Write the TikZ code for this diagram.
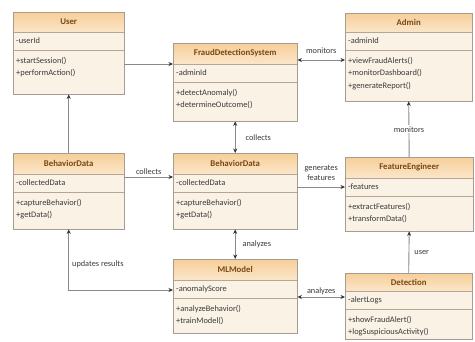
\documentclass[tikz,border=0pt]{standalone}
\usepackage{fontspec}
\setmainfont{Carlito}
\usetikzlibrary{arrows.meta,calc}
\definecolor{hdrA}{HTML}{F6CE98}
\definecolor{hdrB}{HTML}{FBE6CA}
\definecolor{bodyC}{HTML}{FBF2E6}
\definecolor{borderC}{HTML}{A59C92}
\definecolor{sepC}{HTML}{B3A697}
\definecolor{titleC}{HTML}{7A4812}
\definecolor{textC}{HTML}{3A3A3A}
\definecolor{lineC}{HTML}{8A8A8A}
\definecolor{tipC}{HTML}{333333}
\tikzset{
  clsbody/.style={fill=bodyC, draw=none, inner sep=0pt, rectangle},
  clsborder/.style={draw=borderC, line width=0.9pt},
  sepline/.style={draw=sepC, line width=0.8pt},
  clstitle/.style={font=\fontsize{8.8}{10}\selectfont\bfseries, text=titleC, inner sep=0pt},
  clsattr/.style={font=\fontsize{8.4}{10}\selectfont, text=textC, inner sep=0pt, anchor=west},
  clsmeth/.style={font=\fontsize{8.4}{10}\selectfont, text=textC, inner sep=0pt, anchor=west},
  conn/.style={draw=lineC, line width=0.9pt},
  tip/.style={-{Stealth[length=4.5pt,width=4pt,color=tipC]}},
  tips/.style={{Stealth[length=4.5pt,width=4pt,color=tipC]}-{Stealth[length=4.5pt,width=4pt,color=tipC]}},
  lbl/.style={font=\fontsize{8.3}{10}\selectfont, text=textC, inner sep=1pt}
}
% name, x, y, w, h, title, attr, methods, header height
\newcommand{\umlclass}[9]{%
  \node[clsbody, minimum width=#4pt, minimum height=#5pt, anchor=north west] (#1) at (#2,#3) {};
  \shade[top color=hdrA, bottom color=hdrB] (#1.north west) rectangle ([yshift=-#9pt]#1.north east);
  \draw[sepline] ([yshift=-#9pt]#1.north west) -- ([yshift=-#9pt]#1.north east);
  \draw[sepline] ([yshift=-#9pt-18pt]#1.north west) -- ([yshift=-#9pt-18pt]#1.north east);
  \draw[clsborder] (#1.north west) rectangle (#1.south east);
  \node[clstitle] (#1-title) at ([yshift=-#9pt/2]#1.north) {#6};
  \node[clsattr] (#1-attr) at ([xshift=3pt,yshift=-#9pt-9pt]#1.north west) {#7};
  \foreach \m [count=\i] in {#8} {
    \node[clsmeth] (#1-m\i) at ([xshift=3pt,yshift={-#9pt-29pt-12.5pt*(\i-1)}]#1.north west) {\m};
  }
}
\begin{document}
\begin{tikzpicture}[x=1pt,y=-1pt]
\useasboundingbox[fill=white] (0,0) rectangle (475,341);

\umlclass{user}{13}{12}{111}{82}{User}{-userId}{+startSession(),+performAction()}{20}
\umlclass{fds}{173}{43}{124}{78}{FraudDetectionSystem}{-adminId}{+detectAnomaly(),+determineOutcome()}{21}
\umlclass{admin}{345}{13}{127}{88}{Admin}{-adminId}{+viewFraudAlerts(),+monitorDashboard(),+generateReport()}{19}
\umlclass{bdl}{13}{153}{111}{76}{BehaviorData}{-collectedData}{+captureBehavior(),+getData()}{21}
\umlclass{bdc}{173}{153}{124}{76}{BehaviorData}{-collectedData}{+captureBehavior(),+getData()}{21}
\umlclass{fe}{345}{157}{128}{74}{FeatureEngineer}{-features}{+extractFeatures(),+transformData()}{21}
\umlclass{ml}{173}{259}{124}{74}{MLModel}{-anomalyScore}{+analyzeBehavior(),+trainModel()}{21}
\umlclass{det}{345}{273}{127}{66}{Detection}{-alertLogs}{+showFraudAlert(),+logSuspiciousActivity()}{18}

% connectors
\coordinate (uf) at ([yshift=-52pt]user.north east);
\draw[conn,tip] (uf) -- (uf -| fds.west);

\coordinate (fa) at ([yshift=-17pt]fds.north east);
\draw[conn,tips] (fa) -- node[lbl, above=5pt] (lmon1) {monitors} (fa -| admin.west);

\draw[conn,tips] (fds.south) -- node[lbl, right=9pt] (lcol1) {collects} (bdc.north);

\draw[conn,tip] (bdl.north) -- (user.south);

\coordinate (bb) at ([yshift=-24pt]bdl.north east);
\draw[conn,tip] (bb) -- node[lbl, above=1pt] (lcol2) {collects} (bb -| bdc.west);

\coordinate (bf) at ([yshift=-34pt]bdc.north east);
\draw[conn,tip] (bf) -- node[lbl, above=5pt, align=center] (lgen) {generates\\features} (bf -| fe.west);

\draw[conn,tip] (fe.north) -- node[lbl, fill=white] (lmon2) {monitors} (admin.south);

\draw[conn,tips] (bdc.south) -- node[lbl, right=6pt] (lana1) {analyzes} (ml.north);

\coordinate (mb) at ([yshift=-31pt]ml.north west);
\draw[conn,tips] (mb) -| node[lbl, pos=0.71, right=2pt] (lupd) {updates results} (bdl.south);

\coordinate (md) at ([yshift=-38pt]ml.north east);
\draw[conn,tips] (md) -- node[lbl, above=1pt] (lana2) {analyzes} (md -| det.west);

\draw[conn,tip] (det.north) -- node[lbl, right=4pt] (luser) {user} (fe.south);
\end{tikzpicture}
\end{document}
